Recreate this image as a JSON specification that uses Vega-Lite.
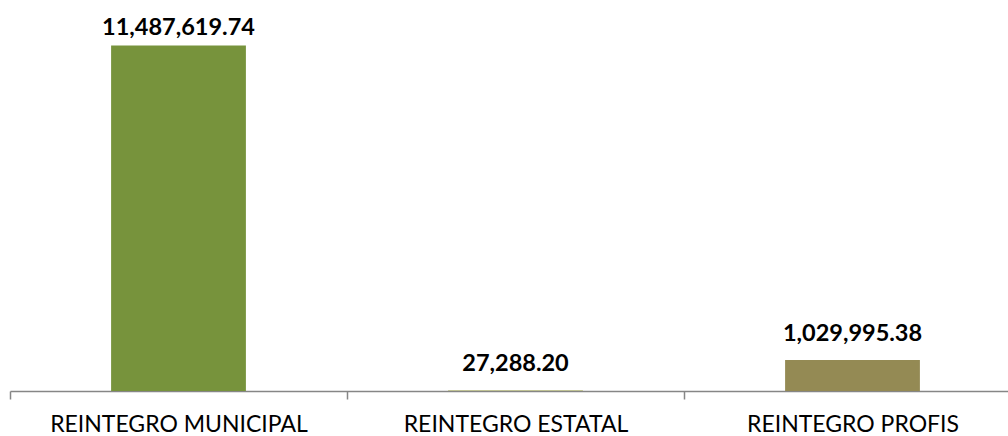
{
  "$schema": "https://vega.github.io/schema/vega-lite/v6.json",
  "width": 1011,
  "height": 391,
  "autosize": "none",
  "padding": {"left": 10, "top": 0, "right": 0, "bottom": 45},
  "background": "white",
  "config": {"view": {"stroke": null}, "font": "Lato"},
  "data": {"values": [
    {"categoria": "REINTEGRO MUNICIPAL", "monto": 11487619.74, "etiqueta": "11,487,619.74", "grupo": "a"},
    {"categoria": "REINTEGRO ESTATAL", "monto": 27288.20, "etiqueta": "27,288.20", "grupo": "b"},
    {"categoria": "REINTEGRO PROFIS", "monto": 1029995.38, "etiqueta": "1,029,995.38", "grupo": "b"}
  ]},
  "encoding": {
    "x": {"field": "categoria", "type": "nominal", "sort": null,
      "scale": {"paddingInner": 0, "paddingOuter": 0},
      "axis": {"title": null, "labelAngle": 0, "labelFontSize": 23, "labelColor": "#000000",
        "labelFont": "Lato", "labelPadding": 14, "labelLimit": 400, "tickBand": "extent", "tickSize": 8,
        "tickColor": "#868686", "domainColor": "#868686", "domainWidth": 1.5, "tickWidth": 1.5}},
    "y": {"field": "monto", "type": "quantitative",
      "scale": {"domain": [0, 13000000], "nice": false},
      "axis": null}
  },
  "layer": [
    {"mark": {"type": "bar", "width": {"band": 0.4}},
     "encoding": {"color": {"field": "categoria", "type": "nominal", "legend": null,
       "scale": {"domain": ["REINTEGRO MUNICIPAL", "REINTEGRO ESTATAL", "REINTEGRO PROFIS"],
                 "range": ["#77933C", "#B5B77A", "#948A54"]}}}},
    {"transform": [{"filter": "datum.grupo == 'a'"}],
     "mark": {"type": "text", "baseline": "alphabetic", "dy": -10, "fontSize": 23.5, "fontWeight": "bold", "color": "#000000"},
     "encoding": {"text": {"field": "etiqueta"}}},
    {"transform": [{"filter": "datum.grupo == 'b'"}],
     "mark": {"type": "text", "baseline": "alphabetic", "dy": -19, "fontSize": 23.5, "fontWeight": "bold", "color": "#000000"},
     "encoding": {"text": {"field": "etiqueta"}}}
  ]
}
